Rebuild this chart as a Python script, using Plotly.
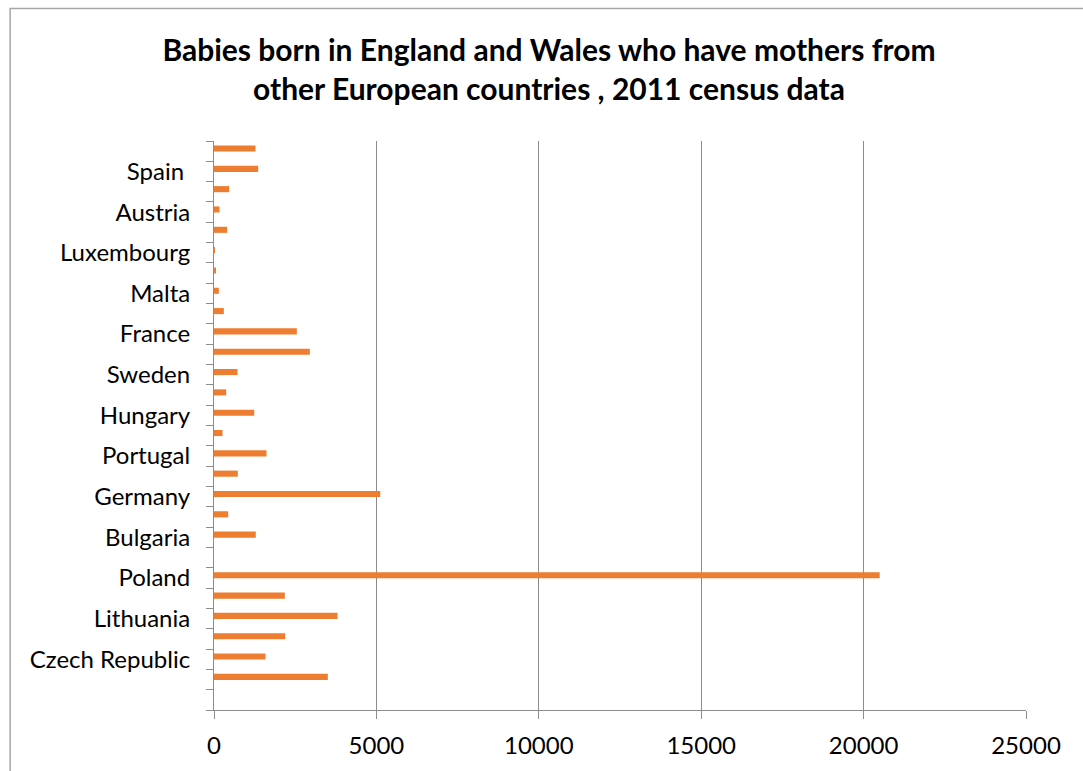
import plotly.graph_objects as go

# Categories from bottom to top (only every other label is displayed on the chart)
countries = [
    "Cyprus", "Ireland", "Czech Republic", "Latvia", "Lithuania", "Slovakia",
    "Poland", "Estonia", "Bulgaria", "Greece", "Germany", "Netherlands",
    "Portugal", "Denmark", "Hungary", "Belgium", "Sweden", "Italy", "France",
    "Finland", "Malta", "Slovenia", "Luxembourg", "Romania", "Austria",
    "Greece (other)", "Spain", "Other EU",
]
shown_labels = [
    "", "", "Czech Republic", "", "Lithuania", "", "Poland", "", "Bulgaria", "",
    "Germany", "", "Portugal", "", "Hungary", "", "Sweden", "", "France", "",
    "Malta", "", "Luxembourg", "", "Austria", "", "Spain\u00a0", "",
]
babies = [
    0, 3505, 1586, 2192, 3804, 2181, 20495, 0, 1287, 437, 5119, 733, 1617,
    262, 1238, 375, 724, 2950, 2550, 302, 148, 45, 25, 406, 170, 468, 1360, 1278,
]
x_ticks = [0, 5000, 10000, 15000, 20000, 25000]

W, H = 1083, 771
L, R, T, B = 213.5, 1026, 141, 710

fig = go.Figure(
    go.Bar(
        y=countries, x=babies, orientation="h",
        marker=dict(color="#ED7D31", line=dict(width=0)),
        width=0.3, offset=-0.02,
        hoverinfo="x+y",
    )
)

font_family = "Lato, 'Open Sans', sans-serif"
grey = "#8c8c8c"

fig.update_layout(
    width=W, height=H,
    margin=dict(l=L, r=W - R, t=T, b=H - B, autoexpand=False),
    paper_bgcolor="white", plot_bgcolor="white",
    showlegend=False,
    font=dict(family=font_family, color="black", size=24),
    title=dict(
        text="<b>Babies born in England and Wales who have mothers from<br>other European countries , 2011 census data</b>",
        x=549 / W, xanchor="center", xref="container",
        y=(H - 61) / H, yanchor="middle", yref="container",
        font=dict(family=font_family, size=30, color="black"),
    ),
    xaxis=dict(
        range=[0, 25000], tickvals=x_ticks, ticktext=[str(v) for v in x_ticks],
        showgrid=True, gridcolor=grey, gridwidth=1,
        showline=True, linecolor=grey, linewidth=1,
        ticks="outside", ticklen=8, tickcolor=grey, tickwidth=1,
        zeroline=False, fixedrange=True,
        tickfont=dict(size=24, family=font_family), ticklabelstandoff=6,
    ),
    yaxis=dict(
        type="category", categoryorder="array", categoryarray=countries,
        tickmode="array", tickvals=countries, ticktext=shown_labels,
        tickson="boundaries",
        showgrid=False, showline=True, linecolor=grey, linewidth=1,
        ticks="outside", ticklen=7, tickcolor=grey, tickwidth=1,
        range=[-0.5, len(countries) - 0.5],
        tickfont=dict(size=24, family=font_family), ticklabelstandoff=18,
        fixedrange=True,
    ),
    shapes=[
        dict(
            type="rect", xref="paper", yref="paper",
            x0=(9.5 - L) / (R - L), x1=1.2,
            y0=-0.3, y1=(B - 8.5) / (B - T),
            line=dict(color="#a6a6a6", width=1.5), layer="below",
        )
    ],
)

fig.write_html("out.html")
